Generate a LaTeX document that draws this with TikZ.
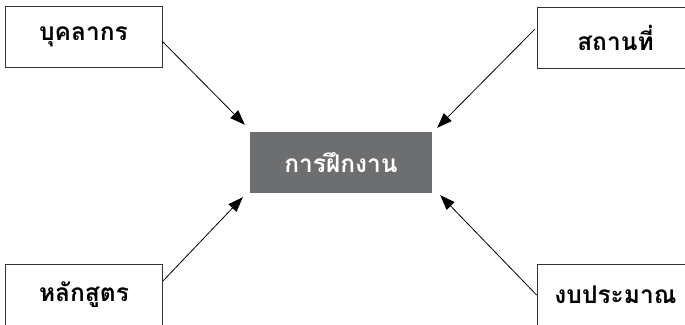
\documentclass[tikz,border=0pt]{standalone}
\usepackage{fontspec}
\newfontfamily\thaifont[Script=Thai]{Loma}
\usetikzlibrary{arrows.meta,positioning}
\definecolor{hubgrey}{HTML}{6D6E70}

\begin{document}
\begin{tikzpicture}[x=1pt,y=1pt,
    outbox/.style={draw=black!80,line width=0.9pt,minimum width=157pt,minimum height=61pt,
      inner sep=0pt,font=\thaifont\bfseries\fontsize{24.5}{28}\selectfont},
    hubbox/.style={fill=hubgrey,text=white,minimum width=182pt,minimum height=61pt,
      inner sep=0pt,font=\thaifont\bfseries\fontsize{24.5}{28}\selectfont},
    feed/.style={draw=black,line width=0.8pt,-{Triangle[length=15pt,width=11pt]}}]
  \useasboundingbox (0,0) rectangle (685,324);
  \clip (0,0) rectangle (685,324);
  % hub and the four inputs
  \node[hubbox] (train) at (341,161.5) {การฝึกงาน};
  \node[outbox] (staff) at (83.5,287.5) {บุคลากร};
  \node[outbox] (place) at (615.5,286.5) {สถานที่};
  \node[outbox] (course) at (84,29) {หลักสูตร};
  \node[outbox] (budget) at (615.5,29) {งบประมาณ};
  % arrows into the hub
  \draw[feed] ([yshift=-5pt]staff.east) -- ([shift={(-5,7)}]train.north west);
  \draw[feed] ([shift={(-2,8)}]place.west) -- ([shift={(5,4)}]train.north east);
  \draw[feed] ([yshift=14pt]course.east) -- ([shift={(-7,-4)}]train.south west);
  \draw[feed] ([yshift=0pt]budget.west) -- ([shift={(8,-2)}]train.south east);
\end{tikzpicture}
\end{document}
